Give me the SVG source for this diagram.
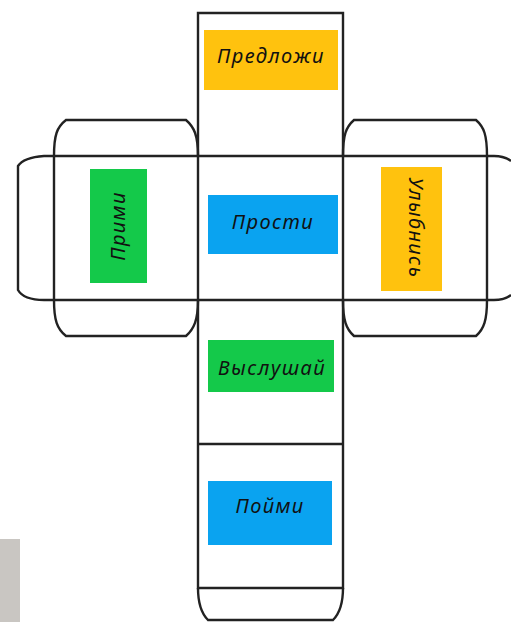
<svg xmlns="http://www.w3.org/2000/svg" width="511" height="622" viewBox="0 0 511 622">
<style>
.l{fill:none;stroke:#222;stroke-width:2.4}
.t{font-family:"Noto Sans","DejaVu Sans",sans-serif;font-style:italic;font-size:20px;letter-spacing:1.4px;fill:#111;text-anchor:middle;dominant-baseline:central}
.g{fill:#14c94a}.b{fill:#0aa3f0}.y{fill:#ffc20e}
</style>
<rect width="511" height="622" fill="#fff"/>
<rect x="0" y="539" width="20" height="83" fill="#c9c6c2"/>
<g id="connectors">
<path class="l" d="M198 13H343V588H198Z"/>
<path class="l" d="M198 444H343"/>
<path class="l" d="M198 588C198 604 201 613 208 620H333C340 613 343 604 343 588"/>
<path class="l" d="M54 156C54 135 57 127 66 120H186C194 127 198 135 198 156"/>
<path class="l" d="M54 156V300C54 320 57 329 66 336H186C194 329 198 320 198 300"/>
<path class="l" d="M343 156C343 135 346 127 354 120H476C484 127 487 135 487 156V300C487 320 484 329 476 336H354C346 329 343 320 343 300"/>
<path class="l" d="M511 161C507 158 502 156 494 156H44C30 157 22 160 18 166V290C22 297 30 300 44 300H494C502 300 507 298 511 295"/>
</g>
<g id="n1"><rect class="y" x="204" y="30" width="134" height="60"/><text class="t" x="271" y="55">Предложи</text></g>
<g id="n2"><rect class="g" x="90" y="169" width="57" height="114"/><text class="t" transform="translate(117 226) rotate(-90)">Прими</text></g>
<g id="n3"><rect class="b" x="208" y="195" width="130" height="59"/><text class="t" x="273" y="221">Прости</text></g>
<g id="n4"><rect class="y" x="381" y="167" width="61" height="124"/><text class="t" transform="translate(416 228) rotate(90)">Улыбнись</text></g>
<g id="n5"><rect class="g" x="208" y="340" width="126" height="52"/><text class="t" x="272" y="367">Выслушай</text></g>
<g id="n6"><rect class="b" x="208" y="481" width="124" height="64"/><text class="t" x="270" y="505">Пойми</text></g>
</svg>
